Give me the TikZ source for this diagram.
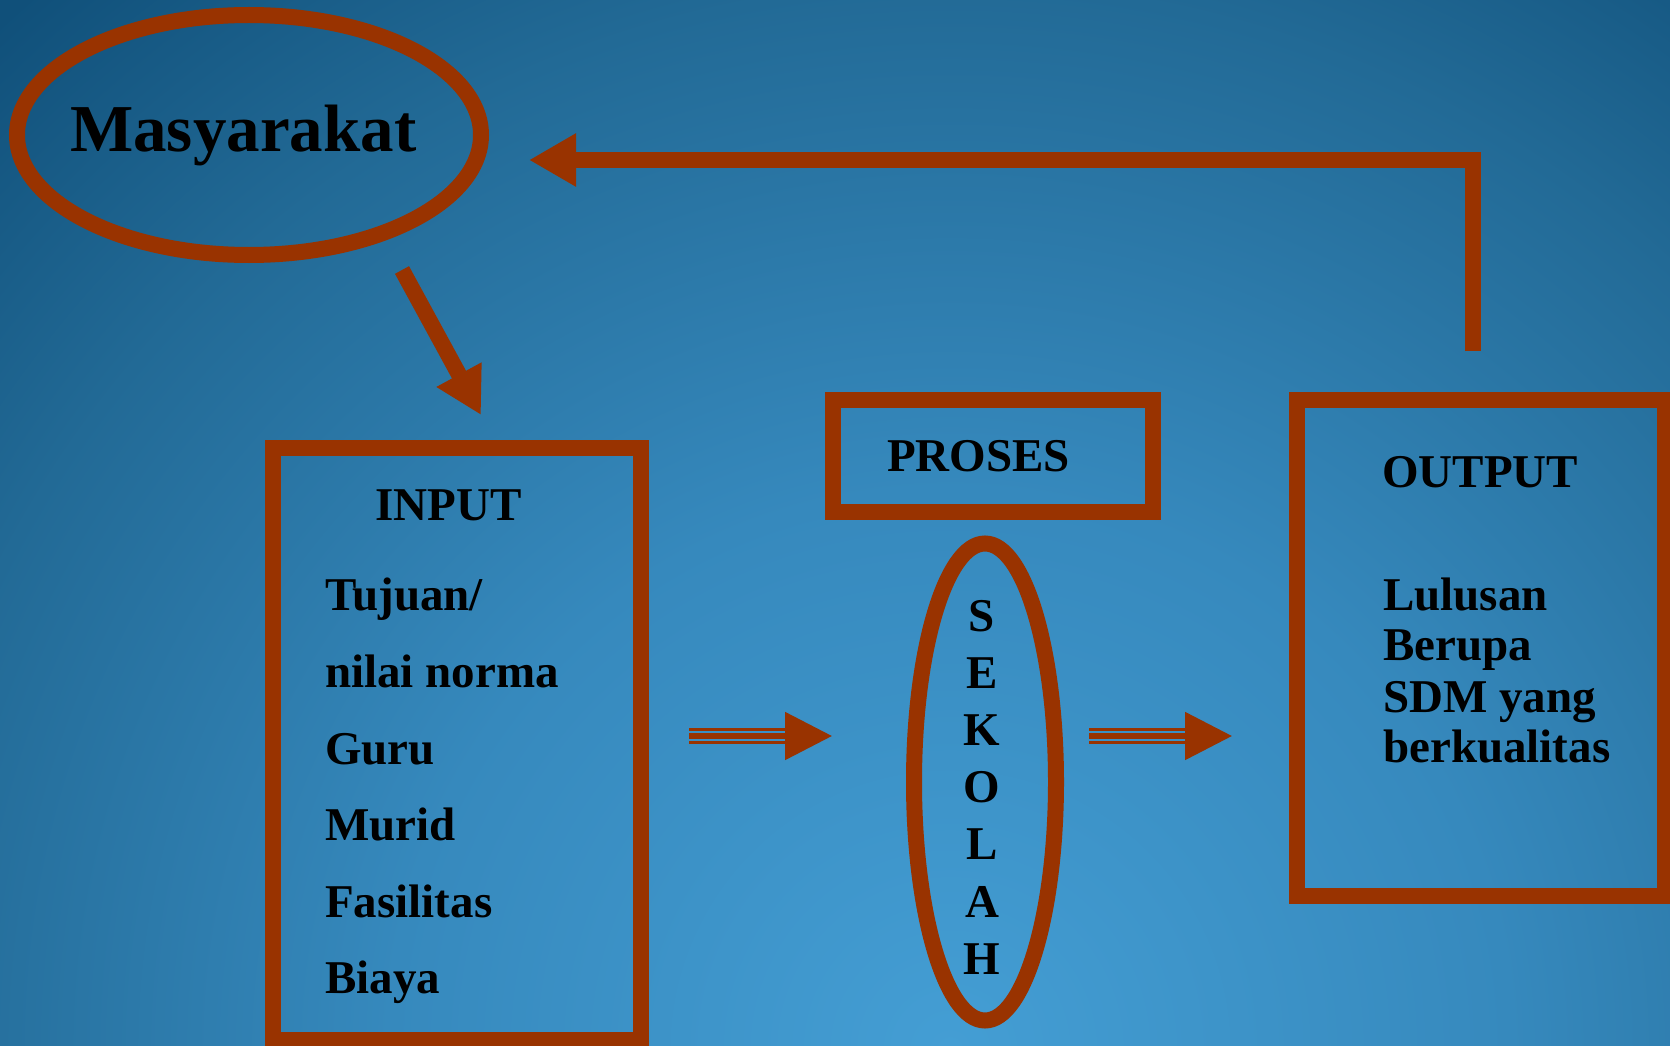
\documentclass[tikz,border=0pt]{standalone}
\usepackage{fontspec}
\setmainfont{Liberation Serif}
\usetikzlibrary{arrows.meta,shapes.geometric}

\definecolor{rust}{RGB}{153,51,0}
\definecolor{bglight}{RGB}{68,158,212}
\definecolor{bgmid}{RGB}{54,137,189}
\definecolor{bgdeep}{RGB}{34,106,150}
\definecolor{bgdark}{RGB}{16,80,122}
\pgfdeclareradialshading{skyglow}{\pgfpoint{0bp}{0bp}}{color(0bp)=(bglight); color(10bp)=(bgmid); color(19bp)=(bgdeep); color(25bp)=(bgdark); color(50bp)=(bgdark)}

\tikzset{
  frame/.style={draw=rust, line width=16pt, inner sep=0pt},
  word/.style={font=\fontsize{47}{56}\selectfont\bfseries, inner sep=0pt, anchor=base west},
  thick line/.style={rust, line width=16pt},
  triple/.style={rust, line width=5.3pt, -{Triangle[length=47pt,width=47pt]}},
  triple side/.style={rust, line width=2.7pt, shorten >=47pt}
}

\begin{document}
\begin{tikzpicture}[x=1pt,y=-1pt]
\useasboundingbox (0,0) rectangle (1670,1046);
\begin{scope}
\clip (0,0) rectangle (1670,1046);
\shade[shading=skyglow] (-450,-350) rectangle (2350,2450);
\end{scope}

\node(masy)[frame,ellipse,minimum width=464pt,minimum height=240pt] at (249,135) {};

\node(masytext)[word,font=\fontsize{67}{80}\selectfont\bfseries] at (70,151) {Masyarakat};

\node(input)[frame,rectangle,minimum width=368pt,minimum height=592pt] at (457,744) {};

\node(intitle)[word] at (375,520) {INPUT};

\node(tujuan)[word] at (325,610) {Tujuan/};

\node(nilai)[word] at (325,687) {nilai norma};

\node(guru)[word] at (325,764) {Guru};

\node(murid)[word] at (325,840) {Murid};

\node(fasilitas)[word] at (325,917) {Fasilitas};

\node(biaya)[word] at (325,993) {Biaya};

\node(proses)[frame,rectangle,minimum width=320pt,minimum height=112pt] at (993,456) {};

\node(prosestext)[word] at (887,471) {PROSES};

\node(sekolah)[frame,ellipse,minimum width=142pt,minimum height=477pt] at (985,782) {};

\foreach \ch [count=\k from 0] in {S,E,K,O,L,A,H}
  \node(sek\k)[word,anchor=base] at (982,{631+57.2*\k}) {\ch};

\node(output)[frame,rectangle,minimum width=368pt,minimum height=496pt] at (1481,648) {};

\node(outtitle)[word] at (1382,487) {OUTPUT};

\node(lulusan)[word] at (1383,610) {Lulusan};

\node(berupa)[word] at (1383,660) {Berupa};

\node(sdm)[word] at (1383,712) {SDM yang};

\node(kualitas)[word] at (1383,762) {berkualitas};

\coordinate(m1) at (402,270);
\coordinate(i1) at (481,415);
\coordinate(o1) at (1473,351);
\coordinate(m2) at (529,160);
\coordinate(a1) at (689,736);
\coordinate(a2) at (832,736);
\coordinate(b1) at (1089,736);
\coordinate(b2) at (1232,736);

\draw [thick line,-{Triangle[length=46pt,width=48pt]}] (m1) -- (i1);
\draw [thick line,-{Triangle[length=47pt,width=50pt]}] (o1) |- (m2);

\draw [triple] (a1) -- (a2);
\draw [triple side] ([yshift=6.5pt]a1) -- ([yshift=6.5pt]a2);
\draw [triple side] ([yshift=-6.5pt]a1) -- ([yshift=-6.5pt]a2);

\draw [triple] (b1) -- (b2);
\draw [triple side] ([yshift=6.5pt]b1) -- ([yshift=6.5pt]b2);
\draw [triple side] ([yshift=-6.5pt]b1) -- ([yshift=-6.5pt]b2);

\end{tikzpicture}
\end{document}
